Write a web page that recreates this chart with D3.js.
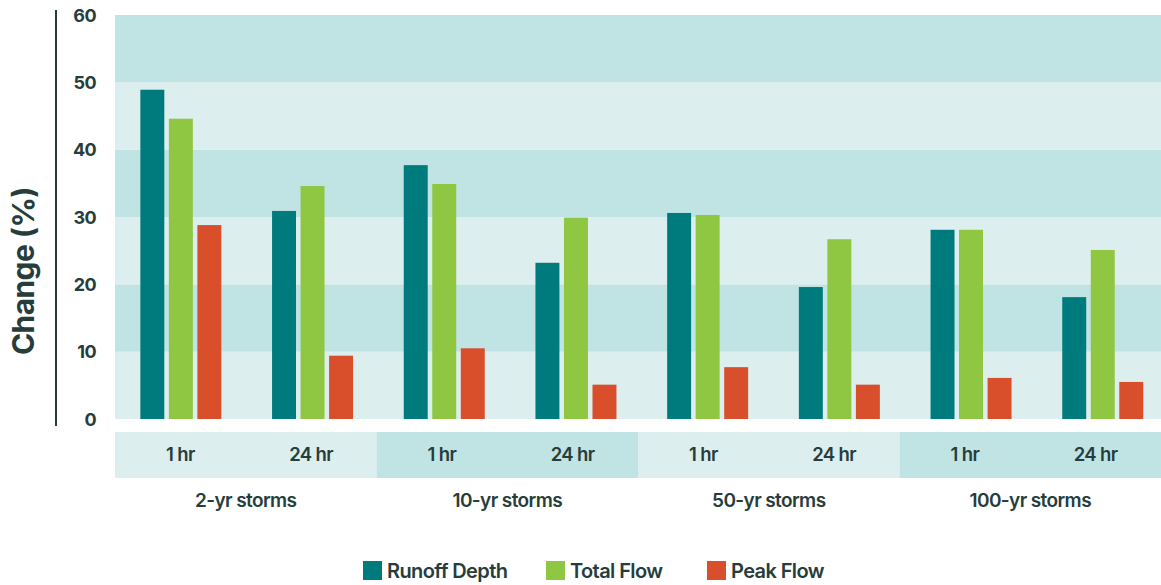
<!DOCTYPE html>
<html>
<head>
<meta charset="utf-8">
<script src="https://cdn.jsdelivr.net/npm/d3@7"></script>
<style>
  body { margin: 0; background: #fff; }
  text { font-family: Inter, "Noto Sans", sans-serif; fill: #263d3c; letter-spacing: -0.6px; }
</style>
</head>
<body>
<script>
// ---- data ----
var storms = ["2-yr storms", "10-yr storms", "50-yr storms", "100-yr storms"];
var durations = ["1 hr", "24 hr"];
var series = ["Runoff Depth", "Total Flow", "Peak Flow"];
var colors = ["#007b7d", "#8fc642", "#d94e2b"];
var runoffDepth = [48.9, 30.9, 37.7, 23.2, 30.6, 19.6, 28.1, 18.1];
var totalFlow   = [44.6, 34.6, 34.9, 29.9, 30.3, 26.7, 28.1, 25.1];
var peakFlow    = [28.8, 9.4, 10.5, 5.1, 7.7, 5.1, 6.1, 5.5];
var yTicks = [0, 10, 20, 30, 40, 50, 60];

var W = 1161, H = 585;
var plotLeft = 115, plotRight = 1161, plotTop = 15, plotBottom = 419;
var bandDark = "#c0e3e3", bandLight = "#ddeeee";

var svg = d3.select("body").append("svg")
    .attr("width", W)
    .attr("height", H);

// build the sub-category keys (storm|duration)
var keys = [];
storms.forEach(function (s) {
    durations.forEach(function (d) { keys.push(s + "|" + d); });
});
var values = [runoffDepth, totalFlow, peakFlow];

var x = d3.scaleBand().domain(keys).range([plotLeft, plotRight]).padding(0);
// bars sit on a slightly wider step than the label row
var xBar = d3.scaleBand().domain(keys).range([plotLeft, 1168.6]).padding(0);
var xGroup = d3.scaleBand().domain(storms).range([plotLeft, plotRight]).padding(0);
var y = d3.scaleLinear().domain([0, 60]).range([plotBottom, plotTop]);

//Background bands
svg.append("g").selectAll("rect")
    .data(d3.range(6))
    .enter().append("rect")
    .attr("x", plotLeft)
    .attr("width", plotRight - plotLeft)
    .attr("y", function (i) { return y((i + 1) * 10); })
    .attr("height", function (i) { return y(i * 10) - y((i + 1) * 10); })
    .attr("fill", function (i) { return i % 2 === 0 ? bandLight : bandDark; });

//Bars
var inner = d3.scaleBand().domain(series).range([-40.5, 40.5]).paddingInner(0.16);
series.forEach(function (s, si) {
    svg.append("g").selectAll("rect")
        .data(keys)
        .enter().append("rect")
        .attr("x", function (k) { return xBar(k) + xBar.bandwidth() / 2 + inner(s); })
        .attr("width", inner.bandwidth())
        .attr("y", function (k, i) { return y(values[si][i]); })
        .attr("height", function (k, i) { return y(0) - y(values[si][i]); })
        .attr("fill", colors[si]);
});

//Y axis
var yAxis = d3.axisLeft(y).tickValues(yTicks).tickSize(0).tickPadding(0);
var yg = svg.append("g").attr("transform", "translate(96,0)").call(yAxis);
yg.select(".domain").remove();
yg.selectAll("text")
    .attr("font-size", 18)
    .attr("font-weight", 700)
    .attr("dy", "0.35em")
    .style("font-family", "Inter, sans-serif");

svg.append("line")
    .attr("x1", 56).attr("x2", 56)
    .attr("y1", 10).attr("y2", 426)
    .attr("stroke", "#263d3c")
    .attr("stroke-width", 2);

svg.append("text")
    .attr("transform", "translate(34,271) rotate(-90)")
    .attr("text-anchor", "middle")
    .attr("font-size", 30)
    .attr("font-weight", 700)
    .text("Change (%)");

//Category row
var rowTop = 432, rowH = 46;
svg.append("g").selectAll("rect")
    .data(storms)
    .enter().append("rect")
    .attr("x", function (s) { return xGroup(s); })
    .attr("width", xGroup.bandwidth())
    .attr("y", rowTop)
    .attr("height", rowH)
    .attr("fill", function (s, i) { return i % 2 === 0 ? bandLight : bandDark; });

svg.append("g").selectAll("text")
    .data(keys)
    .enter().append("text")
    .attr("x", function (k) { return x(k) + x.bandwidth() / 2; })
    .attr("y", rowTop + rowH / 2)
    .attr("dy", "0.35em")
    .attr("text-anchor", "middle")
    .attr("font-size", 18.5)
    .attr("font-weight", 600)
    .text(function (k) { return k.split("|")[1]; });

svg.append("g").selectAll("text")
    .data(storms)
    .enter().append("text")
    .attr("x", function (s) { return xGroup(s) + xGroup.bandwidth() / 2; })
    .attr("y", 500)
    .attr("dy", "0.35em")
    .attr("text-anchor", "middle")
    .attr("font-size", 19)
    .attr("font-weight", 600)
    .text(function (s) { return s; });

//Legend
var legendX = [363, 546, 707];
var legend = svg.append("g").selectAll("g")
    .data(series)
    .enter().append("g")
    .attr("transform", function (s, i) { return "translate(" + legendX[i] + ",561)"; });
legend.append("rect")
    .attr("width", 19).attr("height", 19)
    .attr("fill", function (s, i) { return colors[i]; });
legend.append("text")
    .attr("x", 24)
    .attr("y", 10)
    .attr("dy", "0.35em")
    .attr("font-size", 20)
    .attr("font-weight", 600)
    .text(function (s) { return s; });
</script>
</body>
</html>
